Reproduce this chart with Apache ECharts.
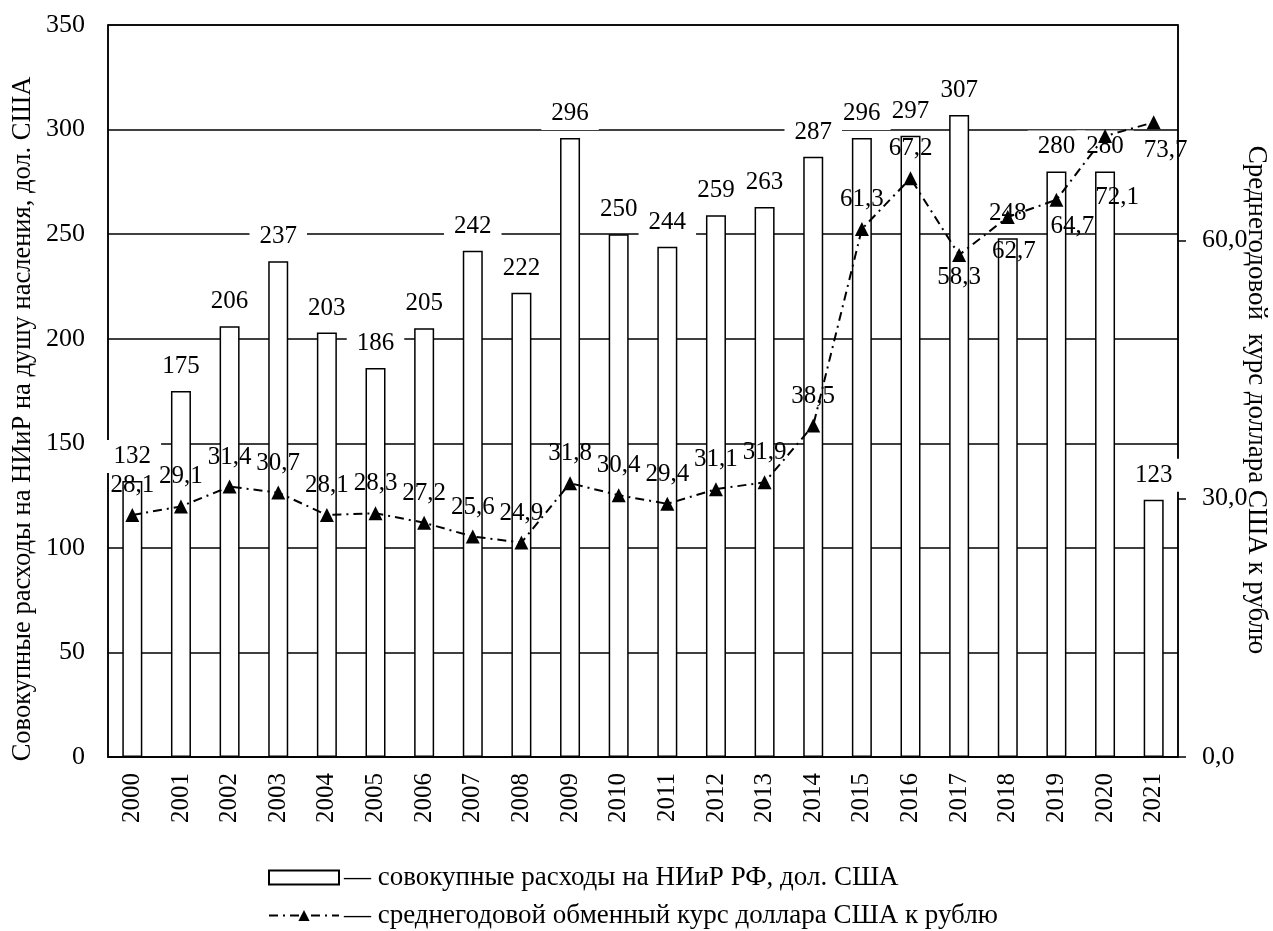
<!DOCTYPE html>
<html lang="ru">
<head>
    <meta charset="UTF-8">
    <title>НИиР</title>
    <script src="https://cdn.jsdelivr.net/npm/echarts@6/dist/echarts.min.js"></script>
    <style>
        html, body { margin: 0; padding: 0; background: #fff; }
        #main { width: 1273px; height: 931px; }
    </style>
</head>
<body>
<div id="main"></div>
<script>
    const years = ['2000', '2001', '2002', '2003', '2004', '2005', '2006', '2007', '2008', '2009', '2010',
        '2011', '2012', '2013', '2014', '2015', '2016', '2017', '2018', '2019', '2020', '2021'];
    // совокупные расходы на НИиР, дол. США на душу
    const spending = [132, 175, 206, 237, 203, 186, 205, 242, 222, 296, 250,
        244, 259, 263, 287, 296, 297, 307, 248, 280, 280, 123];
    // среднегодовой курс доллара
    const rate = [28.1, 29.1, 31.4, 30.7, 28.1, 28.3, 27.2, 25.6, 24.9, 31.8, 30.4,
        29.4, 31.1, 31.9, 38.5, 61.3, 67.2, 58.3, 62.7, 64.7, 72.1, 73.7];
    const rightTicks = [0, 30, 60];

    // подписи курса, которые стоят под маркером (сдвиг подписи)
    const belowLabels = {
        '2017': [0, -2],
        '2018': [6, 10],
        '2019': [16, 2],
        '2020': [12, 37],
        '2021': [12, 4]
    };

    const font = "'Liberation Serif', 'Times New Roman', serif";
    const comma = v => v.toFixed(1).replace('.', ',');

    let myChart = echarts.init(document.getElementById('main'));

    let rateData = rate.map((v, i) => {
        let item = {value: v};
        let off = belowLabels[years[i]];
        if (off) {
            item.label = {position: 'bottom', distance: 5, offset: off};
        }
        return item;
    });

    const barName = 'совокупные расходы на НИиР РФ, дол. США';
    const lineName = 'среднегодовой обменный курс доллара США к рублю';

    let legendBase = {
        orient: 'vertical',
        left: 268,
        padding: 0,
        itemWidth: 70,
        itemHeight: 14,
        itemGap: 5,
        textStyle: {fontFamily: font, fontSize: 27, color: '#000'},
        formatter: name => '— ' + name
    };

    let option = {
        animation: false,
        textStyle: {fontFamily: font, color: '#000'},
        grid: {
            left: 108, right: 95, top: 25, bottom: 174,
            outerBoundsMode: 'none',
            show: true, borderColor: '#000', borderWidth: 1.5, backgroundColor: '#fff'
        },
        legend: [
            Object.assign({}, legendBase, {top: 864, data: [{name: barName, icon: 'rect'}]}),
            Object.assign({}, legendBase, {top: 902, data: [lineName]})
        ],
        xAxis: {
            type: 'category',
            data: years,
            axisLine: {lineStyle: {color: '#000', width: 1.5}},
            axisTick: {show: false},
            axisLabel: {rotate: 90, fontFamily: font, fontSize: 25, color: '#000', margin: 16}
        },
        yAxis: [
            {
                type: 'value',
                min: 0, max: 350, interval: 50,
                name: 'Совокупные расходы на НИиР на душу насления, дол. США',
                nameLocation: 'middle',
                nameGap: 71,
                nameMoveOverlap: false,
                nameTextStyle: {fontFamily: font, fontSize: 26.5, color: '#000', padding: [0, 56, 0, 0]},
                axisLine: {show: true, lineStyle: {color: '#000', width: 1.5}},
                axisTick: {show: false},
                axisLabel: {fontFamily: font, fontSize: 26, color: '#000', margin: 23},
                splitLine: {lineStyle: {color: '#000', width: 1.5}}
            },
            {
                type: 'value',
                min: 0, max: 85,
                name: 'Среднегодовой  курс доллара США к рублю',
                nameLocation: 'middle',
                nameRotate: -90,
                nameGap: 65,
                nameMoveOverlap: false,
                nameTextStyle: {fontFamily: font, fontSize: 27, color: '#000', padding: [0, 0, 0, 18]},
                axisLine: {show: true, lineStyle: {color: '#000', width: 1.5}},
                axisTick: {show: true, length: 8, customValues: rightTicks, lineStyle: {color: '#000', width: 1.5}},
                axisLabel: {
                    fontFamily: font, fontSize: 26, color: '#000', margin: 24,
                    customValues: rightTicks, formatter: v => comma(v)
                },
                splitLine: {show: false}
            }
        ],
        series: [
            {
                name: barName,
                type: 'bar',
                data: spending,
                barWidth: 20,
                itemStyle: {color: '#fff', borderColor: '#000', borderWidth: 1.5},
                label: {
                    show: true, position: 'top', distance: 8,
                    fontFamily: font, fontSize: 25, color: '#000',
                    backgroundColor: '#fff', padding: [4, 10]
                }
            },
            {
                name: lineName,
                type: 'line',
                yAxisIndex: 1,
                data: rateData,
                symbol: 'triangle',
                symbolSize: 14,
                itemStyle: {color: '#000'},
                lineStyle: {color: '#000', width: 2, type: [9, 5, 2, 5]},
                label: {
                    show: true, position: 'top', distance: 10,
                    fontFamily: font, fontSize: 25, color: '#000',
                    formatter: p => comma(p.value)
                }
            }
        ]
    };
    myChart.setOption(option);
</script>
</body>
</html>
